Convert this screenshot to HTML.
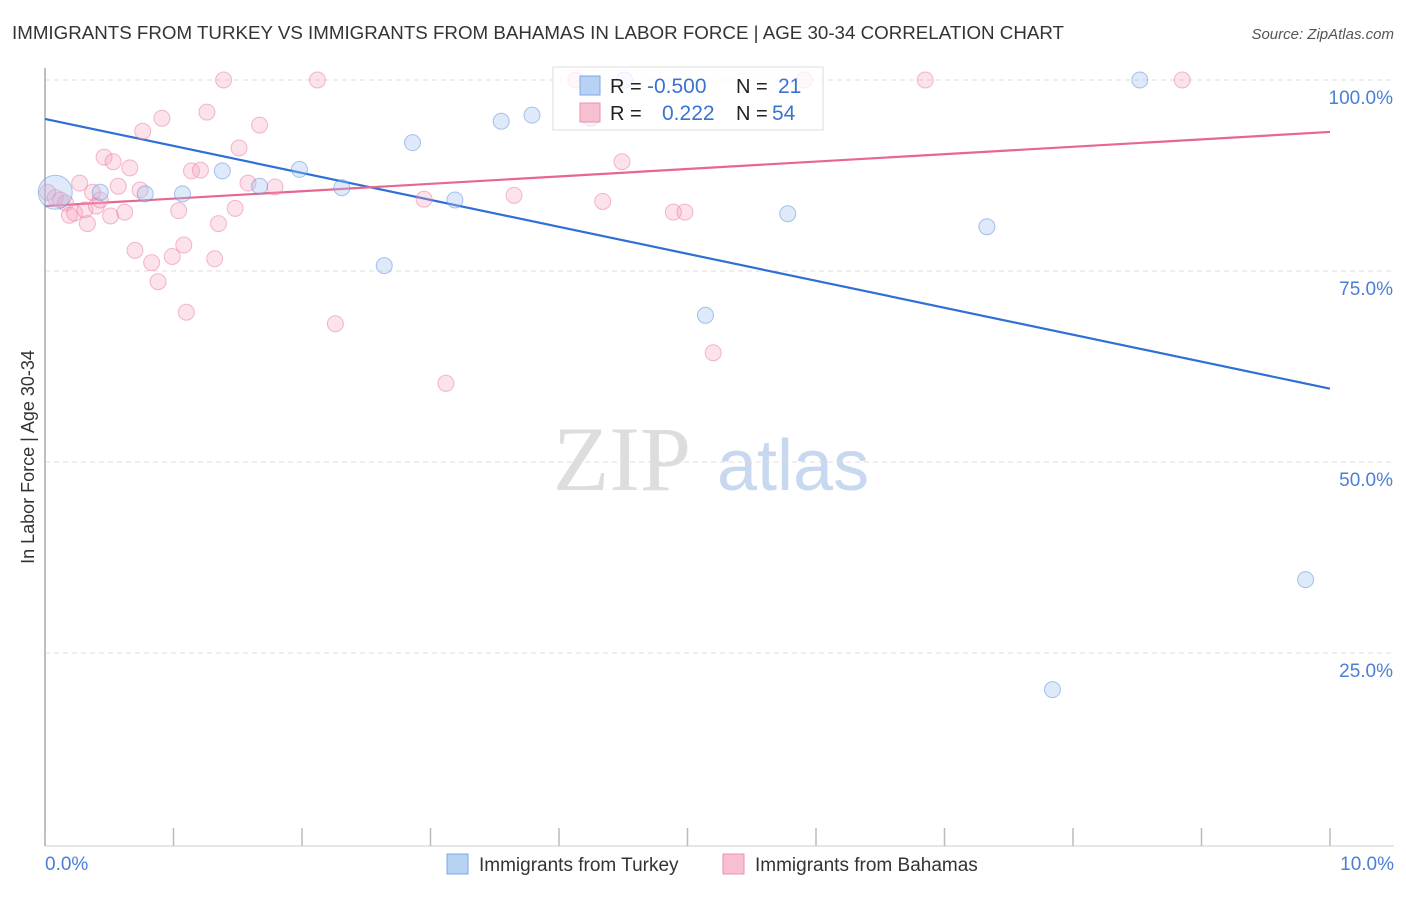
<!DOCTYPE html>
<html><head><meta charset="utf-8"><style>
body{margin:0;background:#fff;font-family:"Liberation Sans",sans-serif}
</style></head><body>
<svg id="chart" width="1406" height="892" xmlns="http://www.w3.org/2000/svg" font-family="Liberation Sans, sans-serif">
<text x="12" y="39" font-size="18" fill="#333" textLength="1052" lengthAdjust="spacingAndGlyphs">IMMIGRANTS FROM TURKEY VS IMMIGRANTS FROM BAHAMAS IN LABOR FORCE | AGE 30-34 CORRELATION CHART</text>
<text x="1394" y="39" font-size="15" fill="#555" text-anchor="end" font-style="italic">Source: ZipAtlas.com</text>
<text transform="translate(34,457) rotate(-90)" font-size="18" fill="#333" text-anchor="middle">In Labor Force | Age 30-34</text>
<g font-size="92">
<text x="553" y="490" fill="#ddd" font-family="Liberation Serif, serif">ZIP</text>
<text x="717" y="490" fill="#c8d8f0" font-size="72">atlas</text>
</g>
<g id="grid"></g><g id="axes"></g><g id="lines"></g><g id="pts"></g>
<g>
<rect x="553" y="67" width="270" height="63" fill="#fff" fill-opacity="0.75" stroke="#ddd"/>
<rect x="580" y="76" width="20" height="19" fill="#b8d2f3" stroke="#7aa8e6"/>
<rect x="580" y="103" width="20" height="19" fill="#f7c0d0" stroke="#ec8fae"/>
<text x="610" y="93" font-size="20" fill="#222">R =</text>
<text x="647" y="93" font-size="21" fill="#3b73d1">-0.500</text>
<text x="736" y="93" font-size="20" fill="#222">N =</text>
<text x="778" y="93" font-size="21" fill="#3b73d1">21</text>
<text x="610" y="120" font-size="20" fill="#222">R =</text>
<text x="662" y="120" font-size="21" fill="#3b73d1">0.222</text>
<text x="736" y="120" font-size="20" fill="#222">N =</text>
<text x="772" y="120" font-size="21" fill="#3b73d1">54</text>
</g>
<g font-size="19" fill="#333">
<rect x="447" y="854" width="21" height="20" fill="#b8d2f3" stroke="#7aa8e6"/>
<text x="479" y="871">Immigrants from Turkey</text>
<rect x="723" y="854" width="21" height="20" fill="#f7c0d0" stroke="#ec8fae"/>
<text x="755" y="871">Immigrants from Bahamas</text>
</g>
</svg>
<script>
const yTicks=[25,50,75,100];
const yTickLabels=["25.0%","50.0%","75.0%","100.0%"];
const xTickLabels=["0.0%","10.0%"];
const turkeyX=[0.08,0.43,0.78,1.07,1.38,1.67,1.98,2.31,2.64,2.86,3.19,3.55,3.79,4.25,4.51,5.14,5.78,7.33,7.84,8.52,9.81];
const turkeyY=[85.3,85.3,85.1,85.1,88.1,86.1,88.3,85.9,75.7,91.8,84.3,94.6,95.4,95.0,100,69.2,82.5,80.8,20.2,100,34.6];
const bahamasX=[0.02,0.08,0.12,0.16,0.19,0.23,0.27,0.31,0.33,0.37,0.40,0.43,0.46,0.51,0.53,0.57,0.62,0.66,0.70,0.74,0.76,0.83,0.88,0.91,0.99,1.04,1.08,1.10,1.14,1.21,1.26,1.32,1.35,1.39,1.48,1.51,1.58,1.67,2.12,2.26,2.95,3.12,3.65,4.13,4.34,4.49,4.89,4.98,5.20,5.91,6.85,8.85,4.24,1.79];
const bahamasY=[85.3,84.6,84.3,83.9,82.3,82.6,86.5,83.0,81.2,85.3,83.5,84.3,89.9,82.2,89.3,86.1,82.7,88.5,77.7,85.6,93.3,76.1,73.6,95.0,76.9,82.9,78.4,69.6,88.1,88.2,95.8,76.6,81.2,100,83.2,91.1,86.5,94.1,100,68.1,84.4,60.3,84.9,100,84.1,89.3,82.7,82.7,64.3,100,100,100,95.0,86.0];
const turkeyTrend=[94.9,59.6];
const bahamasTrend=[83.5,93.2];
const sx=v=>45+v*128.5, sy=v=>80+(100-v)*7.64;
const NS="http://www.w3.org/2000/svg";
function mk(p,t,a){const e=document.createElementNS(NS,t);for(const k in a)e.setAttribute(k,a[k]);document.getElementById(p).appendChild(e);return e;}
yTicks.forEach((t,i)=>{
 const g=mk('grid','line',{x1:45,x2:1394,y1:sy(t),y2:sy(t),stroke:'#ddd','stroke-dasharray':'5,4'});
 
 
 const l=mk('axes','text',{x:1393,y:sy(t)+24,'font-size':19,fill:'#4a7fd6','text-anchor':'end'});
 l.textContent=yTickLabels[i];
 
 
});
const ax=mk('axes','line',{x1:45,x2:45,y1:68,y2:846,stroke:'#aaa','stroke-width':1.5});


const bx=mk('axes','line',{x1:45,x2:1394,y1:846,y2:846,stroke:'#ccc'});


for(let i=0;i<=10;i++){const t=mk('axes','line',{x1:sx(i),x2:sx(i),y1:828,y2:846,stroke:'#bbb','stroke-width':1.5});
 
 }
[[0,'start',45],[10,'end',1394]].forEach((d,i)=>{const t=mk('axes','text',{x:d[2],y:870,'font-size':19,fill:'#4a7fd6','text-anchor':d[1]});t.textContent=xTickLabels[i];
 
 });
bahamasX.forEach((x,i)=>{const c=mk('pts','circle',{cx:sx(x),cy:sy(bahamasY[i]),r:8,fill:'rgba(244,160,185,0.3)',stroke:'rgba(233,120,160,0.5)'});
 
 });
turkeyX.forEach((x,i)=>{const c=mk('pts','circle',{cx:sx(x),cy:sy(turkeyY[i]),r:i==0?17:8,fill:'rgba(160,195,240,0.35)',stroke:'rgba(90,140,220,0.5)'});
 
 });
const l1=mk('lines','line',{x1:sx(0),y1:sy(turkeyTrend[0]),x2:sx(10),y2:sy(turkeyTrend[1]),stroke:'#2f6fd6','stroke-width':2.2});


const l2=mk('lines','line',{x1:sx(0),y1:sy(bahamasTrend[0]),x2:sx(10),y2:sy(bahamasTrend[1]),stroke:'#e8668f','stroke-width':2.2});


</script>
</body></html>
